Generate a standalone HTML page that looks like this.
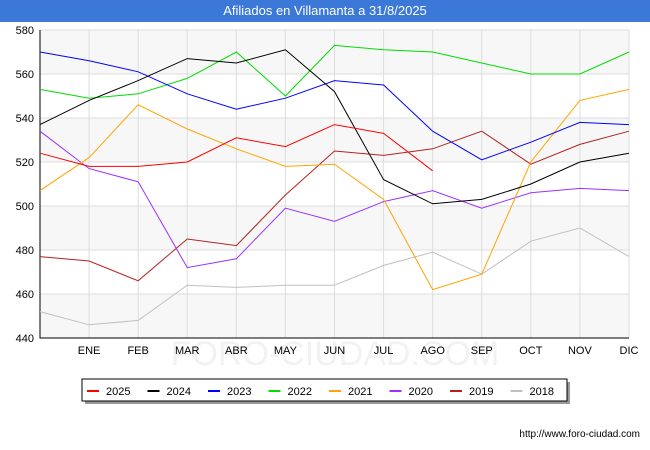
<!DOCTYPE html>
<html><head><meta charset="utf-8"><style>
body{margin:0;width:650px;height:450px;background:#fff;font-family:"Liberation Sans",sans-serif;overflow:hidden}
#title{position:absolute;left:0;top:0;width:650px;height:22px;background:#3b78d8;color:#fff;font-size:13px;text-align:center;line-height:22px}
</style></head><body>
<div id="title">Afiliados en Villamanta a 31/8/2025</div>
<svg id="c" width="650" height="450" style="position:absolute;left:0;top:0"></svg>
<script>
const months=["","ENE","FEB","MAR","ABR","MAY","JUN","JUL","AGO","SEP","OCT","NOV","DIC"];
const yTicks=[440,460,480,500,520,540,560,580];
const seriesNames=["2025","2024","2023","2022","2021","2020","2019","2018"];
const colors=["#ff0000","#000000","#0000ff","#00dd00","#ffa500","#9b30ff","#b22222","#c0c0c0"];
const s2025=[524,518,518,520,531,527,537,533,516];
const s2024=[537,548,557,567,565,571,552,512,501,503,510,520,524];
const s2023=[570,566,561,551,544,549,557,555,534,521,529,538,537];
const s2022=[553,549,551,558,570,550,573,571,570,565,560,560,570];
const s2021=[507,522,546,535,526,518,519,503,462,469,520,548,553];
const s2020=[534,517,511,472,476,499,493,502,507,499,506,508,507];
const s2019=[477,475,466,485,482,505,525,523,526,534,519,528,534];
const s2018=[452,446,448,464,463,464,464,473,479,469,484,490,477];
const allSeries=[s2025,s2024,s2023,s2022,s2021,s2020,s2019,s2018];
const X0=40,X1=629,Y0=30,Y1=338,ymin=440,ymax=580;
const x=i=>X0+i*(X1-X0)/12;
const y=v=>Y1-(v-ymin)*(Y1-Y0)/(ymax-ymin);
const svg=document.getElementById('c');const NS="http://www.w3.org/2000/svg";
function mk(t,a,p){const e=document.createElementNS(NS,t);for(const k in a)e.setAttribute(k,a[k]);(p||svg).appendChild(e);return e;}
for(let i=0;i<yTicks.length-1;i++){if(i%2==0){const r=mk('rect',{x:X0,y:y(yTicks[i+1]),width:X1-X0,height:y(yTicks[i])-y(yTicks[i+1]),fill:'#f7f7f7'});

}}
const wm=mk('text',{x:335,y:365,'text-anchor':'middle','font-size':34,fill:'#f2f2f2'});wm.textContent='FORO-CIUDAD.COM';


yTicks.forEach(v=>{const l=mk('line',{x1:X0,x2:X1,y1:y(v),y2:y(v),stroke:'#ddd'});


const t=mk('text',{x:X0-6,y:y(v)+4,'text-anchor':'end','font-size':11,fill:'#000'});t.textContent=v;

});
months.forEach((m,i)=>{const l=mk('line',{x1:x(i),x2:x(i),y1:Y0,y2:Y1,stroke:'#ddd'});


if(m){const t=mk('text',{x:x(i),y:Y1+16,'text-anchor':'middle','font-size':11,fill:'#000'});t.textContent=m;

}});
const ax=mk('path',{d:`M${X0} ${Y0}V${Y1}H${X1}`,stroke:'#000',fill:'none'});


for(let k=allSeries.length-1;k>=0;k--){const d=allSeries[k].map((v,i)=>(i?'L':'M')+x(i)+' '+y(v)).join('');
const p=mk('path',{d:d,stroke:colors[k],fill:'none','stroke-width':1});

}
const lg=mk('g',{});


mk('rect',{x:85,y:382,width:485,height:22,fill:'#999'},lg);
mk('rect',{x:82,y:379,width:485,height:22,fill:'#fff',stroke:'#000'},lg);
seriesNames.forEach((n,i)=>{const g=mk('g',{},lg);


const lx=87+i*60.5;mk('line',{x1:lx,x2:lx+12,y1:391,y2:391,stroke:colors[i],'stroke-width':2},g);
const t=mk('text',{x:lx+19,y:395,'font-size':11,fill:'#000'},g);t.textContent=n;});
const u=mk('text',{x:640,y:437,'text-anchor':'end','font-size':10,fill:'#000'});u.textContent='http://www.foro-ciudad.com';


</script>
</body></html>
